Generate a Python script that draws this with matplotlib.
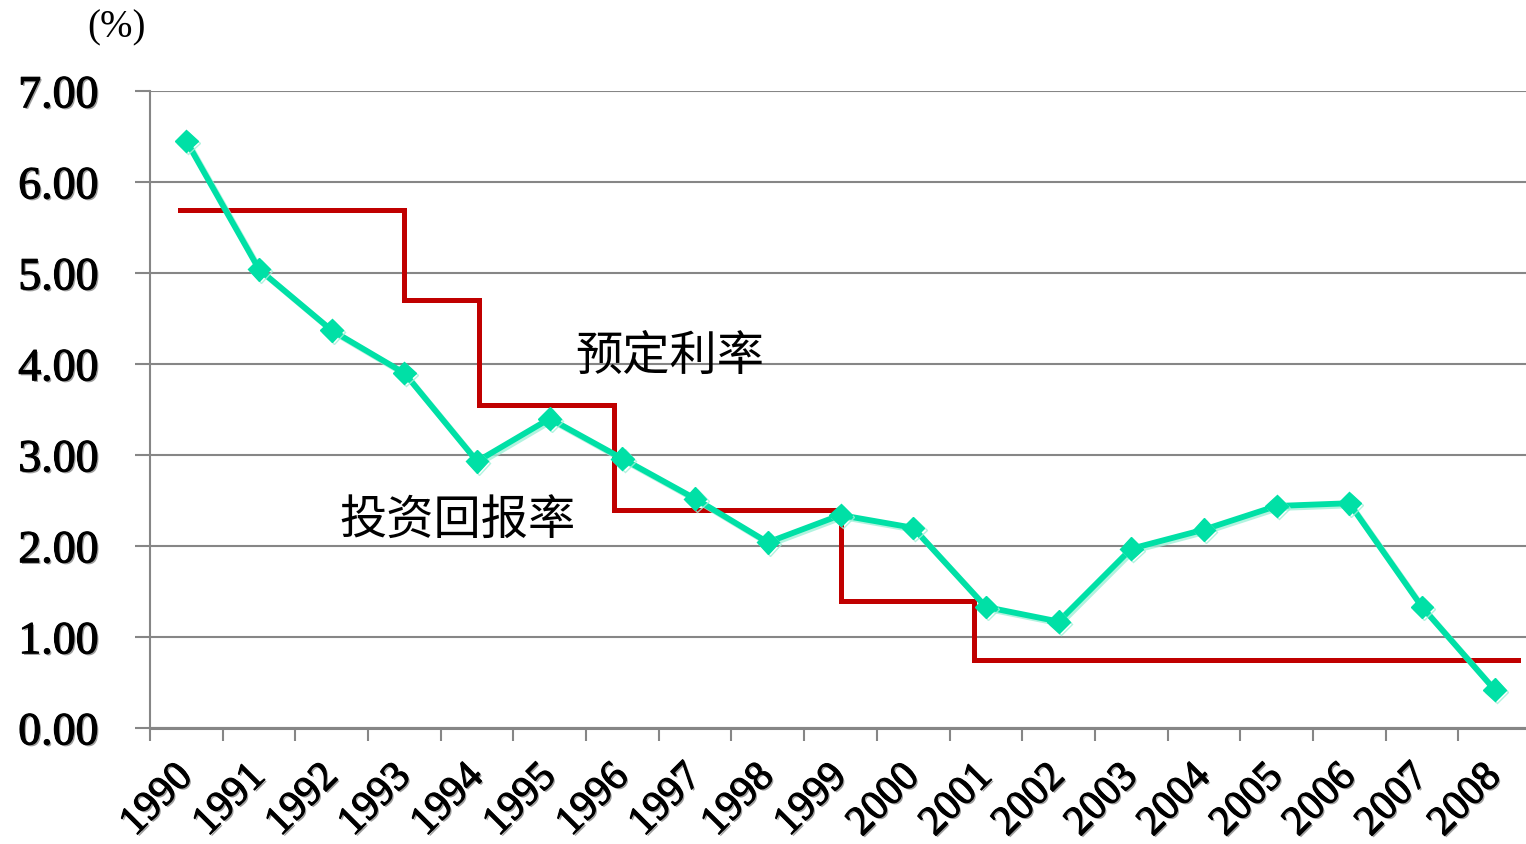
import numpy as np
import matplotlib.pyplot as plt
import matplotlib.patheffects as pe
from matplotlib.transforms import ScaledTranslation

years = ['1990', '1991', '1992', '1993', '1994', '1995', '1996', '1997', '1998', '1999',
         '2000', '2001', '2002', '2003', '2004', '2005', '2006', '2007', '2008']
touzi = [6.45, 5.04, 4.37, 3.90, 2.93, 3.40, 2.96, 2.52, 2.04, 2.34,
         2.20, 1.33, 1.17, 1.97, 2.18, 2.44, 2.47, 1.33, 0.42]

# step line of the assumed rate: x edges in category units, level for each step
yuding_x = [-0.09, 3.0, 4.03, 5.88, 9.0, 10.84, 18.32]
yuding_y = [5.69, 4.70, 3.55, 2.40, 1.40, 0.75]

grey = '#868686'
green = '#00E0A6'
red = '#C00000'
serif = 'Liberation Serif'

fig = plt.figure(figsize=(15.26, 8.44), dpi=100)
ax = fig.add_axes([150 / 1526, 116 / 844, 1381 / 1526, 637 / 844])

# red step line
sx = []
sy = []
for i in range(len(yuding_y)):
    sx += [yuding_x[i], yuding_x[i + 1]]
    sy += [yuding_y[i], yuding_y[i]]
ax.plot(sx, sy, color=red, lw=3.6, solid_joinstyle='miter', zorder=3)

# green line with diamonds
xs = np.arange(len(years))
ax.plot(xs, touzi, color=green, lw=4.2, marker='D', markersize=11.5,
        markeredgecolor=green, zorder=4,
        path_effects=[pe.SimpleLineShadow(offset=(1.5, -1.5), shadow_color='#9ff0d8', alpha=0.8),
                      pe.Normal()])

# heavier looking labels with a faint shadow, like the original
fx = [pe.SimplePatchShadow(offset=(1.2, -1.2), shadow_rgbFace='#777777', alpha=0.7),
      pe.withStroke(linewidth=0.8, foreground='black')]

ax.set_xlim(-0.5, 18.5)
ax.set_ylim(0, 7)
ax.set_yticks(np.arange(0, 8, 1))
ax.set_yticklabels(['%.2f' % v for v in range(8)], fontfamily=serif, fontsize=33)
for lab in ax.get_yticklabels():
    lab.set_path_effects(fx)
ax.grid(axis='y', color=grey, lw=1.5)
ax.set_axisbelow(True)

ax.set_xticks(xs)
ax.set_xticklabels(years, fontfamily=serif, fontsize=30, rotation=45, ha='right', va='top')
ax.set_xticks(np.arange(-0.5, 18.6, 1), minor=True)
ax.tick_params(axis='x', which='major', length=0, pad=21)
ax.tick_params(axis='x', which='minor', length=9.5, width=1.5, color=grey)
ax.tick_params(axis='y', length=11, width=1.5, color=grey, pad=26)
off = ScaledTranslation(14 / 100, 0, fig.dpi_scale_trans)
for lab in ax.get_xticklabels():
    lab.set_transform(lab.get_transform() + off)
    lab.set_path_effects(fx)

for s in ['top', 'right']:
    ax.spines[s].set_visible(False)
ax.spines['left'].set_color(grey)
ax.spines['left'].set_linewidth(1.5)
ax.spines['bottom'].set_color(grey)
ax.spines['bottom'].set_linewidth(2.2)

fig.text(117 / 1526, 1 - 28 / 844, '(%)', fontfamily=serif, fontsize=28, ha='center', va='center')
fig.text(670 / 1526, 1 - 357 / 844, '预定利率', fontfamily='Noto Sans CJK SC', fontsize=34,
         ha='center', va='center')
fig.text(458 / 1526, 1 - 522 / 844, '投资回报率', fontfamily='Noto Sans CJK SC', fontsize=34,
         ha='center', va='center')

fig.savefig('out.png', dpi=100)
